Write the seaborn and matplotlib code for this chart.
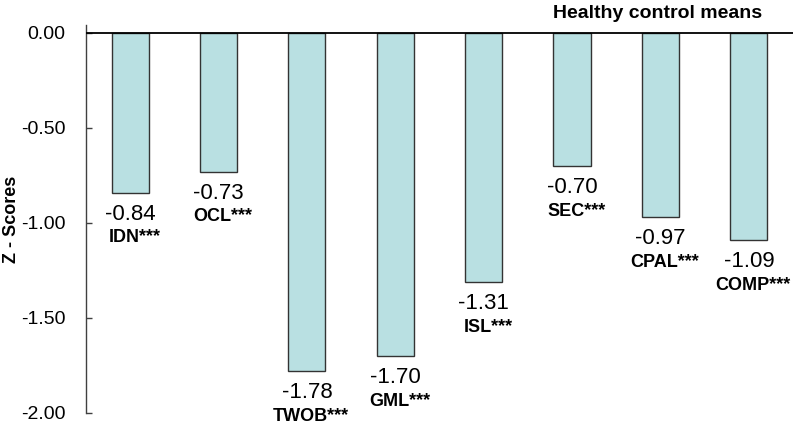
import numpy as np
import pandas as pd
import seaborn as sns
import matplotlib.pyplot as plt

# values
tests = ['IDN', 'OCL', 'TWOB', 'GML', 'ISL', 'SEC', 'CPAL', 'COMP']
z_scores = [-0.84, -0.73, -1.78, -1.70, -1.31, -0.70, -0.97, -1.09]
stars = ['***', '***', '***', '***', '***', '***', '***', '***']
y_ticks = [0.0, -0.5, -1.0, -1.5, -2.0]

sns.set_style('white')
plt.rcParams['font.family'] = ['Liberation Sans', 'DejaVu Sans']
plt.rcParams['text.color'] = 'black'
plt.rcParams['axes.labelcolor'] = 'black'
plt.rcParams['ytick.color'] = 'black'

df = pd.DataFrame({'test': tests, 'z': z_scores})

figure = plt.figure(figsize=(7.99, 4.34), dpi=100)
axis = figure.add_axes([0.1076, 0.0484, 0.8849, 0.894])

sns.barplot(data=df, x='test', y='z', ax=axis, color='#b9e0e2', saturation=1,
            edgecolor='#333333', linewidth=1, width=0.42)

axis.axhline(0, color='black', linewidth=1.3, zorder=5)
axis.set_xlim(-0.5, len(tests) - 0.5)
axis.set_ylim(-2.0, 0.042)
axis.set_yticks(y_ticks)
axis.set_yticklabels([f'{t:.2f}' for t in y_ticks], fontsize=14)
axis.tick_params(axis='y', direction='in', length=4, width=1, pad=15,
                 left=True, color='#404040')
axis.set_xticks([])
axis.set_xlabel('')
axis.set_ylabel('Z - Scores', fontsize=13, fontweight='bold')
axis.yaxis.set_label_coords(-0.094, 0.5)

for side in ['top', 'right', 'bottom']:
    axis.spines[side].set_visible(False)
axis.spines['left'].set_color('#404040')
axis.spines['left'].set_linewidth(1)

for i, (name, val, st) in enumerate(zip(tests, z_scores, stars)):
    axis.annotate(f'{val:.2f}', xy=(i, val), xytext=(0, -15.5),
                  textcoords='offset points', ha='center', va='center',
                  fontsize=16)
    axis.annotate(f'{name}{st}', xy=(i, val), xytext=(3, -32.5),
                  textcoords='offset points', ha='center', va='center',
                  fontsize=13, fontweight='bold')

figure.text(762 / 799, 1 - 18 / 434, 'Healthy control means', ha='right',
            va='baseline', fontsize=14, fontweight='bold')

figure.savefig('out.png', dpi=100)
